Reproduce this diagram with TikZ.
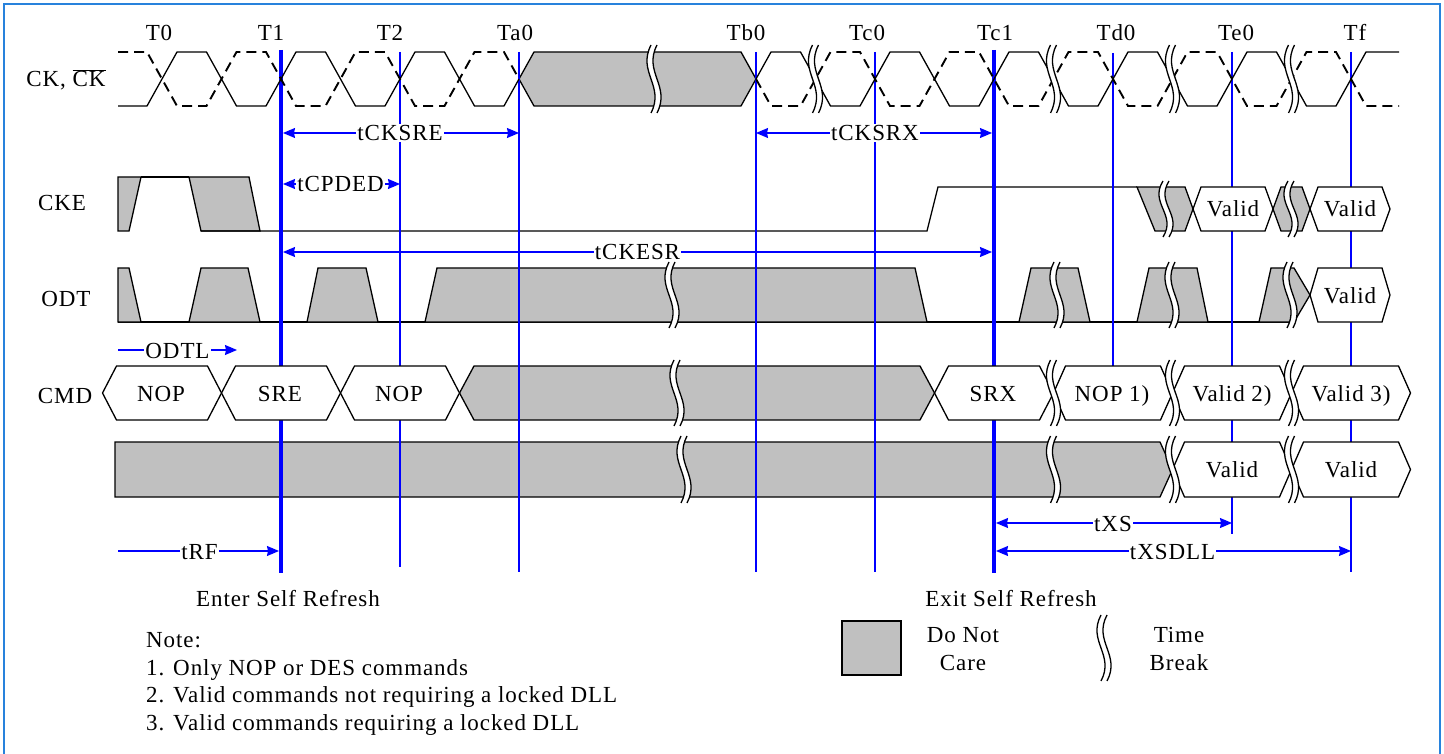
\documentclass[tikz,border=0pt]{standalone}
\usepackage{fontspec}
\setmainfont{Liberation Serif}[LetterSpace=4]
\usetikzlibrary{arrows.meta,positioning}

\definecolor{dncgray}{RGB}{192,192,192}
\definecolor{framec}{RGB}{40,130,220}

% hexagon cell: x1, x2, top, bottom, slant
\newcommand{\hexcell}[5]{%
  \draw[hexw] (#1,{(#3+#4)/2}) -- ({#1+#5},#3) -- ({#2-#5},#3) -- (#2,{(#3+#4)/2})
    -- ({#2-#5},#4) -- ({#1+#5},#4) -- cycle;}
% time break: x, top, bottom
\newcommand{\timebreak}[3]{%
  \fill[white] ({#1-3},#2) .. controls ({#1-17},{#2+0.4*(#3-#2)}) and ({#1+11},{#2+0.6*(#3-#2)}) .. ({#1-3},#3)
    -- ({#1+3},#3) .. controls ({#1+17},{#2+0.6*(#3-#2)}) and ({#1-11},{#2+0.4*(#3-#2)}) .. ({#1+3},#2) -- cycle;
  \draw[sig] ({#1-3},#2) .. controls ({#1-17},{#2+0.4*(#3-#2)}) and ({#1+11},{#2+0.6*(#3-#2)}) .. ({#1-3},#3);
  \draw[sig] ({#1+3},#2) .. controls ({#1-11},{#2+0.4*(#3-#2)}) and ({#1+17},{#2+0.6*(#3-#2)}) .. ({#1+3},#3);}

\begin{document}
\begin{tikzpicture}[x=1pt,y=-1pt,
  lbl/.style={font=\fontsize{23}{27}\selectfont,text height=16pt,text depth=0pt,inner sep=1pt},
  sig/.style={draw=black,line width=1.3pt,line join=miter},
  dnc/.style={sig,fill=dncgray},
  hexw/.style={sig,fill=white},
  tline/.style={draw=blue,line width=1.4pt},
  tbold/.style={draw=blue,line width=4.5pt},
  dim/.style={draw=blue,line width=1.3pt,{Stealth[length=12pt,width=10pt,inset=1pt]}-{Stealth[length=12pt,width=10pt,inset=1pt]}},
  dimr/.style={draw=blue,line width=1.3pt,-{Stealth[length=12pt,width=10pt,inset=1pt]}},
  dimlbl/.style={lbl,fill=white},
  clk/.style={line width=1.3pt},
  clkb/.style={line width=1.9pt,dash pattern=on 10pt off 6pt}]
  \useasboundingbox (0,0) rectangle (1444,754);
  \draw[framec,line width=1.5pt] (4,754) -- (4,4) -- (1440,4) -- (1440,754);

  % time points
  \coordinate (T1) at (281,50);
  \coordinate (T2) at (400,52);
  \coordinate (Ta0) at (519,52);
  \coordinate (Tb0) at (756,52);
  \coordinate (Tc0) at (875,52);
  \coordinate (Tc1) at (994,50);
  \coordinate (Td0) at (1113,53);
  \coordinate (Te0) at (1232,52);
  \coordinate (Tf) at (1351,52);

  \node[lbl] (lT0) at (159,33) {T0};
  \node[lbl] (lT1) at (271,33) {T1};
  \node[lbl] (lT2) at (390,33) {T2};
  \node[lbl] (lTa0) at (515,33) {Ta0};
  \node[lbl] (lTb0) at (746,33) {Tb0};
  \node[lbl] (lTc0) at (867,33) {Tc0};
  \node[lbl] (lTc1) at (995,33) {Tc1};
  \node[lbl] (lTd0) at (1116,33) {Td0};
  \node[lbl] (lTe0) at (1236,33) {Te0};
  \node[lbl] (lTf) at (1355,33) {Tf};

  % signal names
  \node[lbl] (nCK) at (66,79) {CK, $\overline{\mbox{CK}}$};
  \node[lbl] (nCKE) at (62,203) {CKE};
  \node[lbl] (nODT) at (66,299) {ODT};
  \node[lbl] (nCMD) at (65,395) {CMD};

  % CKE
  \draw[dnc] (118,177) -- (141,177) -- (129,231) -- (118,231) -- cycle;
  \draw[sig] (141,177) -- (189,177);
  \draw[dnc] (189,177) -- (249,177) -- (260,231) -- (201,231) -- cycle;
  \draw[sig] (201,231) -- (927,231) -- (938,187) -- (1137,187);
  \draw[dnc] (1137,187) -- (1185,187) -- (1193,209) -- (1185,231) -- (1155,231) -- cycle;
  \draw[dnc] (1273,209) -- (1281,187) -- (1302,187) -- (1310,209) -- (1302,231) -- (1281,231) -- cycle;

  % ODT
  \draw[sig] (118,322) -- (1290,322);
  \draw[dnc] (118,268) -- (129,268) -- (141,322) -- (118,322) -- cycle;
  \draw[dnc] (189,322) -- (201,268) -- (248,268) -- (260,322) -- cycle;
  \draw[dnc] (307,322) -- (318,268) -- (366,268) -- (378,322) -- cycle;
  \draw[dnc] (425,322) -- (437,268) -- (915,268) -- (927,322) -- cycle;
  \draw[dnc] (1019,322) -- (1031,268) -- (1078,268) -- (1090,322) -- cycle;
  \draw[dnc] (1137,322) -- (1149,268) -- (1197,268) -- (1208,322) -- cycle;
  \draw[dnc] (1259,322) -- (1271,268) -- (1294,268) -- (1310,295) -- (1294,322) -- cycle;

  % CMD, bottom bus and clock don't care
  \draw[dnc] (459.5,393) -- (474,366) -- (920,366) -- (934.5,393) -- (920,420) -- (474,420) -- cycle;
  \draw[dnc] (115,442) -- (1160,442) -- (1172.5,469.5) -- (1160,497) -- (115,497) -- cycle;
  \draw[dnc] (519,79) -- (534,52) -- (741,52) -- (756,79) -- (741,106) -- (534,106) -- cycle;

  % time lines
  \draw[tbold] (T1) -- (281,573);
  \draw[tline] (T2) -- (400,567);
  \draw[tline] (Ta0) -- (519,572);
  \draw[tline] (Tb0) -- (756,572);
  \draw[tline] (Tc0) -- (875,572);
  \draw[tbold] (Tc1) -- (994,573);
  \draw[tline] (Td0) -- (1113,366);
  \draw[tline] (Te0) -- (1232,534);
  \draw[tline] (Tf) -- (1351,572);

  % valid cells
  \hexcell{1193}{1273}{187}{231}{8}
  \hexcell{1310}{1390}{187}{231}{8}
  \hexcell{1310}{1390}{268}{322}{8}
  \hexcell{102.5}{221.5}{366}{420}{14}
  \hexcell{221.5}{340.5}{366}{420}{14}
  \hexcell{340.5}{459.5}{366}{420}{14}
  \hexcell{934.5}{1053.5}{366}{420}{14}
  \hexcell{1053.5}{1172.5}{366}{420}{12}
  \hexcell{1172.5}{1291.5}{366}{420}{12}
  \hexcell{1291.5}{1410.5}{366}{420}{12}
  \hexcell{1172.5}{1291.5}{442}{497}{12}
  \hexcell{1291.5}{1410.5}{442}{497}{12}

  % clock
  \draw[clk] (118,106) -- (147,106) -- (177,52) -- (206.5,52) -- (236.5,106) -- (266,106) -- (296,52) -- (325.5,52) -- (355.5,106) -- (385,106) -- (415,52) -- (444.5,52) -- (474.5,106) -- (504,106) -- (519,79);
  \draw[clkb] (118,52) -- (147,52) -- (177,106) -- (206.5,106) -- (236.5,52) -- (266,52) -- (296,106) -- (325.5,106) -- (355.5,52) -- (385,52) -- (415,106) -- (444.5,106) -- (474.5,52) -- (504,52) -- (519,79);
  \draw[clk] (756,79) -- (771,52) -- (800.5,52) -- (830.5,106) -- (860,106) -- (890,52) -- (919.5,52) -- (949.5,106) -- (979,106) -- (1009,52) -- (1038.5,52) -- (1068.5,106) -- (1098,106) -- (1128,52) -- (1157.5,52) -- (1187.5,106) -- (1217,106) -- (1247,52) -- (1276.5,52) -- (1306.5,106) -- (1336,106) -- (1366,52) -- (1399,52);
  \draw[clkb] (756,79) -- (771,106) -- (800.5,106) -- (830.5,52) -- (860,52) -- (890,106) -- (919.5,106) -- (949.5,52) -- (979,52) -- (1009,106) -- (1038.5,106) -- (1068.5,52) -- (1098,52) -- (1128,106) -- (1157.5,106) -- (1187.5,52) -- (1217,52) -- (1247,106) -- (1276.5,106) -- (1306.5,52) -- (1336,52) -- (1366,106) -- (1399,106);

  % time breaks
  \foreach \bx in {654,815.5,1053.5,1172.5,1291.5} {\timebreak{\bx}{45}{113}}
  \foreach \bx in {1166,1291} {\timebreak{\bx}{181}{237}}
  \foreach \bx in {672,1057,1172,1290} {\timebreak{\bx}{262}{328}}
  \foreach \bx in {677,1053.5,1172.5,1291.5} {\timebreak{\bx}{360}{426}}
  \foreach \bx in {684,1053.5,1172.5,1291.5} {\timebreak{\bx}{436}{503}}

  % cell texts
  \node[lbl] (ckev0) at (1233,209) {Valid};
  \node[lbl] (ckev1) at (1350,209) {Valid};
  \node[lbl] (odtv) at (1350,295) {Valid};
  \node[lbl] (cmd0) at (161,393) {NOP};
  \node[lbl] (cmd1) at (280,393) {SRE};
  \node[lbl] (cmd2) at (399,393) {NOP};
  \node[lbl] (cmd3) at (993,393) {SRX};
  \node[lbl] (cmd4) at (1112,393) {NOP 1)};
  \node[lbl] (cmd5) at (1232,393) {Valid 2)};
  \node[lbl] (cmd6) at (1351,393) {Valid 3)};
  \node[lbl] (bus0) at (1232,469.5) {Valid};
  \node[lbl] (bus1) at (1351,469.5) {Valid};

  % timing parameters
  \coordinate (rowA) at (0,133);
  \coordinate (rowB) at (0,184);
  \coordinate (rowC) at (0,252);
  \coordinate (rowE) at (0,523);
  \coordinate (rowF) at (0,551);
  \coordinate (odtlA) at (118,350);
  \coordinate (odtlB) at (237,350);
  \coordinate (trfA) at (118,551);
  \draw[dim,shorten <=2pt] (T1 |- rowA) -- (Ta0 |- rowA) node[dimlbl,midway] (pSRE) {tCKSRE};
  \draw[dim,shorten >=2pt] (Tb0 |- rowA) -- (Tc1 |- rowA) node[dimlbl,midway] (pSRX) {tCKSRX};
  \draw[dim,shorten <=2pt] (T1 |- rowB) -- (T2 |- rowB) node[dimlbl,midway] (pCPDED) {tCPDED};
  \draw[dim,shorten <=2pt,shorten >=2pt] (T1 |- rowC) -- (Tc1 |- rowC) node[dimlbl,midway] (pCKESR) {tCKESR};
  \draw[dimr] (odtlA) -- (odtlB) node[dimlbl,midway] (pODTL) {ODTL};
  \draw[dim,shorten <=2pt] (Tc1 |- rowE) -- (Te0 |- rowE) node[dimlbl,midway] (pXS) {tXS};
  \draw[dim,shorten <=2pt] (Tc1 |- rowF) -- (Tf |- rowF) node[dimlbl,midway] (pXSDLL) {tXSDLL};
  \draw[dimr,shorten >=2pt] (trfA) -- (T1 |- rowF) node[dimlbl,midway] (pRF) {tRF};

  \node[lbl] (enter) at (288,598) {Enter Self Refresh};
  \node[lbl] (exit) at (1011,598) {Exit Self Refresh};

  % notes
  \node[lbl,anchor=west] (note0) at (145,639) {Note:};
  \node[lbl,anchor=west] (note1) at (145,667) {1. Only NOP or DES commands};
  \node[lbl,anchor=west] (note2) at (145,694) {2. Valid commands not requiring a locked DLL};
  \node[lbl,anchor=west] (note3) at (145,722) {3. Valid commands requiring a locked DLL};

  % legend
  \node[draw,fill=dncgray,line width=1.3pt,minimum width=59pt,minimum height=54pt,inner sep=0pt] (keydnc) at (871.5,648) {};
  \node[lbl] (keydnc1) at (963,634) {Do Not};
  \node[lbl] (keydnc2) at (963,662) {Care};
  \timebreak{1104}{615}{681}
  \node[lbl] (keytb1) at (1179,634) {Time};
  \node[lbl] (keytb2) at (1179,662) {Break};
\end{tikzpicture}
\end{document}
